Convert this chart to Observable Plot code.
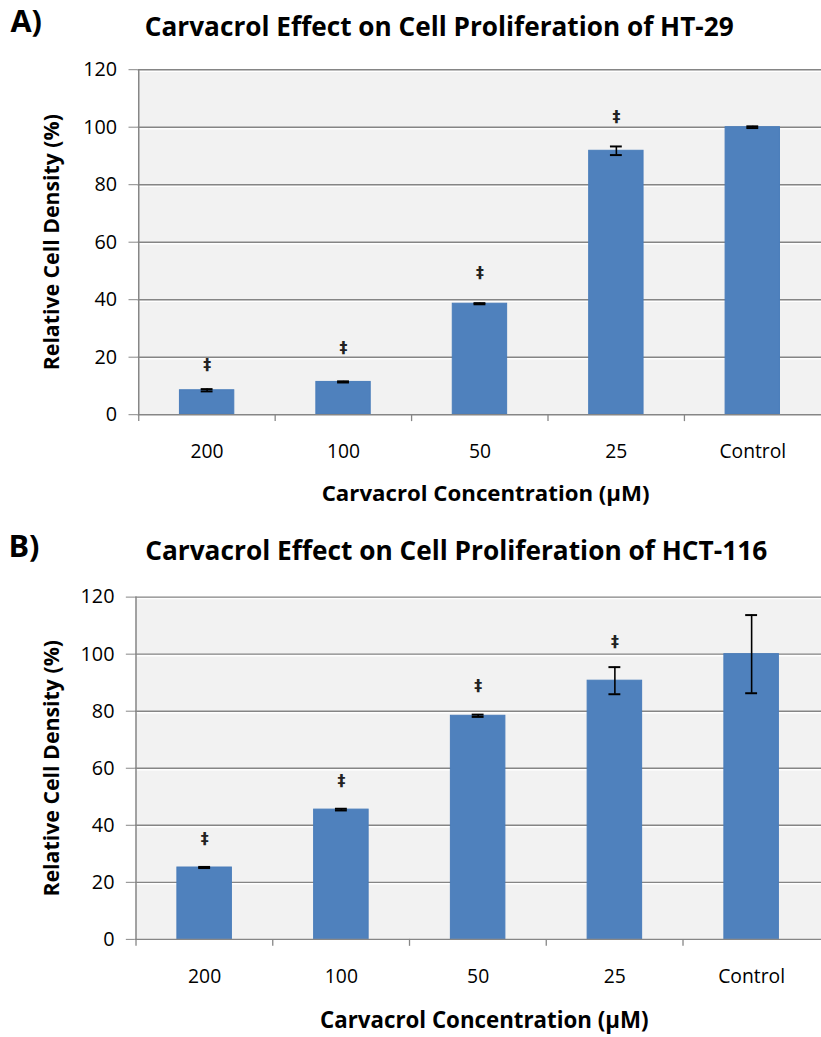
<!DOCTYPE html>
<html><head><meta charset="utf-8">
<script src="https://cdn.jsdelivr.net/npm/d3@7"></script>
<script src="https://cdn.jsdelivr.net/npm/@observablehq/plot@0.6"></script>
<style>
html,body{margin:0;padding:0;background:#fff;overflow:hidden;width:821px;height:1037px;position:relative;}
#a,#b{position:absolute;left:0;}
#a{top:0}
#b{top:522px}
svg{overflow:visible}
</style></head><body>
<div id="a"></div><div id="b"></div>
<script>
const categories = ["200", "100", "50", "25", "Control"];
const yTicks = [0, 20, 40, 60, 80, 100, 120];
const gridTicks = [20, 40, 60, 80, 100, 120];

const htValues = [8.5, 11.4, 38.6, 91.8, 100];
const htErrors = [0.4, 0.2, 0.2, 1.5, 0.3];
const htSignif = [17.2, 23.1, 49.2, 103.4, null];

const hctValues = [25.2, 45.5, 78.4, 90.7, 100];
const hctErrors = [0.2, 0.3, 0.4, 4.75, 13.7];
const hctSignif = [35.1, 55.4, 88.7, 104.2, null];

const xTitle = "Carvacrol Concentration (µM)";
const yTitle = "Relative Cell Density (%)";

function panel(opts) {
  const {letter, title, values, errors, signif, top, left, step, plotH, height} = opts;
  const data = categories.map((c, i) => ({c, v: values[i], e: errors[i], m: signif[i]}));
  const pxPerUnit = plotH / 120;
  const tickLen = 7 / pxPerUnit;
  const font = "Open Sans";
  return Plot.plot({
    width: left + 5 * step,
    height,
    marginLeft: left,
    marginRight: 0,
    marginTop: top,
    marginBottom: height - top - plotH,
    style: {fontFamily: font, overflow: "visible", background: "transparent"},
    x: {domain: categories, padding: 0, axis: null},
    y: {domain: [0, 120], axis: null},
    marks: [
      Plot.frame({fill: "#f2f2f2", stroke: "none"}),
      Plot.ruleY(gridTicks, {stroke: "#ffffff", strokeWidth: 1.5, dy: 1.5}),
      Plot.ruleY(gridTicks, {stroke: "#858585", strokeWidth: 1.4}),
      Plot.barY(data, {x: "c", y: "v", fill: "#4f81bd", stroke: "#4a7dba", strokeWidth: 1, insetLeft: 41.5, insetRight: 41.5}),
      Plot.ruleX(data, {x: "c", y1: d => d.v - d.e, y2: d => d.v + d.e, stroke: "#000", strokeWidth: 1.6}),
      Plot.tickY(data, {x: "c", y: d => d.v + d.e, stroke: "#000", strokeWidth: 2, insetLeft: 63, insetRight: 63}),
      Plot.tickY(data, {x: "c", y: d => d.v - d.e, stroke: "#000", strokeWidth: 2, insetLeft: 63, insetRight: 63}),
      Plot.text(data.filter(d => d.m != null), {x: "c", y: "m", text: () => "‡", fontSize: 16, fontWeight: "bold", fill: "#222", fontFamily: "DejaVu Sans"}),
      Plot.ruleY([0], {stroke: "#868686", strokeWidth: 1.5}),
      Plot.ruleX(categories, {x: d => d, dx: -step / 2, y1: -tickLen, y2: 0, stroke: "#868686", strokeWidth: 1.3}),
      Plot.ruleX([categories[0]], {x: d => d, dx: -step / 2, y1: 0, y2: 120, stroke: "#868686", strokeWidth: 1.5}),
      Plot.axisY({ticks: yTicks, tickSize: 9, tickPadding: 12, fontSize: 20, stroke: "#868686", fill: "#000", label: null, anchor: "left"}),
      Plot.axisX({tickSize: 0, tickPadding: 30, fontSize: 19.5, fill: "#000", label: null}),
      Plot.text([yTitle], {frameAnchor: "left", textAnchor: "middle", lineAnchor: "middle", rotate: -90, dx: 52 - left, fontSize: 21.5, fontWeight: "bold", fill: "#000"}),
      Plot.text([xTitle], {frameAnchor: "bottom", textAnchor: "middle", lineAnchor: "middle", dx: 6, dy: opts.xTitleDy, fontSize: 22.5, fontWeight: "bold", fill: "#000"}),
      Plot.text([title], {frameAnchor: "top-left", textAnchor: "start", lineAnchor: "middle", dx: 146 - left, dy: opts.titleY - top, fontSize: 26.5, fontWeight: "bold", fill: "#000"}),
      Plot.text([letter], {frameAnchor: "top-left", textAnchor: "start", lineAnchor: "middle", dx: opts.letterX - left, dy: opts.letterY - top, fontSize: 31, fontWeight: "bold", fill: "#000"})
    ]
  });
}

document.getElementById("a").append(panel({
  letter: "A)", title: "Carvacrol Effect on Cell Proliferation of HT-29",
  values: htValues, errors: htErrors, signif: htSignif,
  top: 70, left: 139, step: 138.3, plotH: 349, height: 522,
  titleY: 27.5, letterX: 10, letterY: 21.5, xTitleDy: 80
}));
document.getElementById("b").append(panel({
  letter: "B)", title: "Carvacrol Effect on Cell Proliferation of HCT-116",
  values: hctValues, errors: hctErrors, signif: hctSignif,
  top: 75.3, left: 136, step: 138.5, plotH: 345.4, height: 515,
  titleY: 29.5, letterX: 8, letterY: 25, xTitleDy: 82
}));
</script>
</body></html>
